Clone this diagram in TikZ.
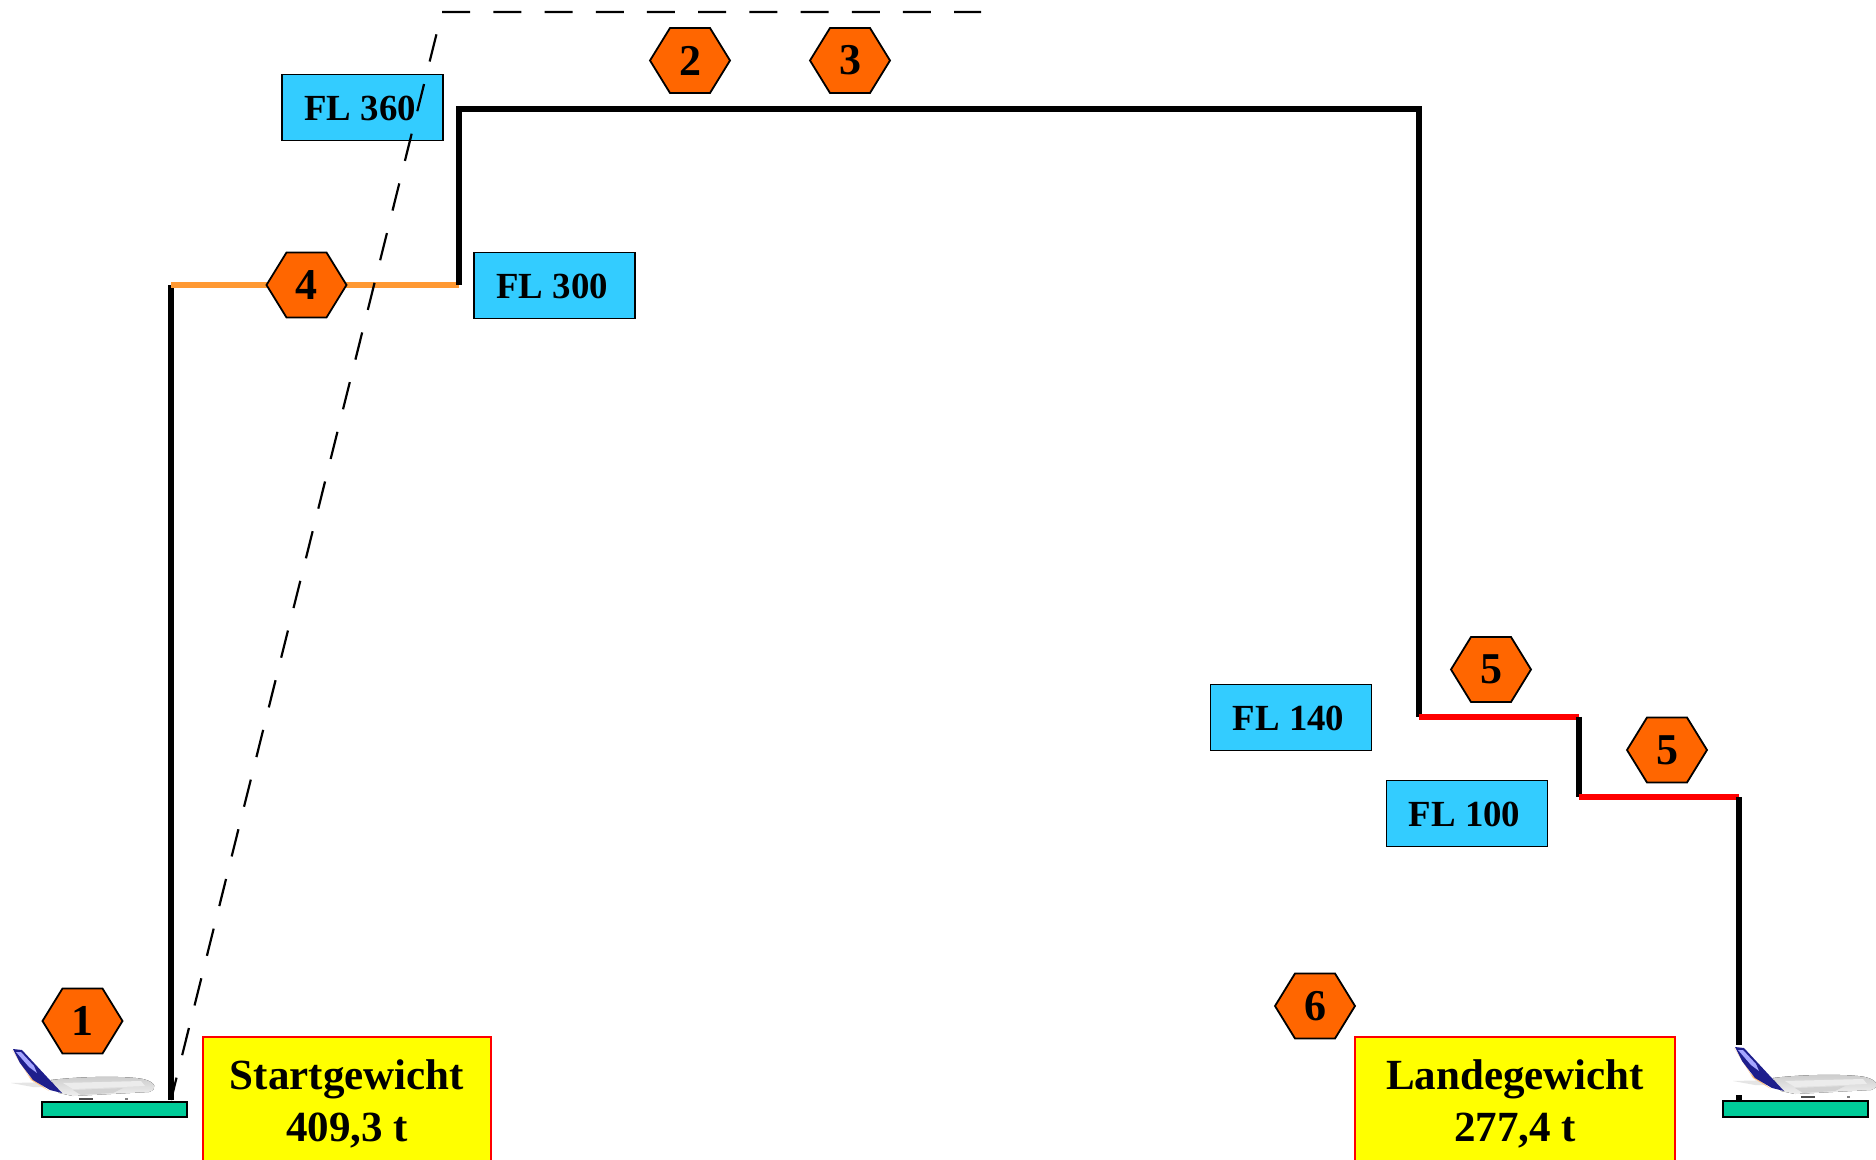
\documentclass[tikz,border=0pt]{standalone}
\usepackage{fontspec}
\setmainfont{Liberation Serif}
\usetikzlibrary{positioning}
\definecolor{hexorange}{RGB}{255,102,0}
\definecolor{flblue}{RGB}{51,204,255}
\definecolor{climborange}{RGB}{255,153,51}
\definecolor{rampgreen}{RGB}{0,204,153}
\definecolor{tailblue}{RGB}{30,30,140}
\definecolor{weightyellow}{RGB}{255,255,0}

\begin{document}
\begin{tikzpicture}[
    x=0.5pt, y=-0.5pt,
    route/.style={black, line width=3pt, line join=miter},
    descent/.style={red, line width=3pt},
    planned/.style={black, line width=1.1pt, dash pattern=on 14pt off 11.6pt, dash phase=2.5pt}, % Style for the dashed profile
    flbox/.style={draw=black, line width=0.8pt, fill=flblue, minimum width=80.5pt, minimum height=33pt, inner sep=0pt, text height=13.5pt, text depth=0pt, font=\fontsize{18.4}{22}\selectfont\bfseries},
    weightbox/.style={draw=red, line width=1pt, fill=weightyellow, minimum height=62pt, inner sep=0pt, align=center, font=\fontsize{21.5}{26.3}\selectfont\bfseries},
    ramp/.style={draw=black, line width=1pt, fill=rampgreen, inner sep=0pt},
    hexa/.style={draw=black, line width=0.9pt, fill=hexorange},
    hexnum/.style={font=\fontsize{22}{26}\selectfont\bfseries, inner sep=0pt},
    airliner/.pic={
        \fill[white] (-3,-2) rectangle (145,48);
        % Stabiliser and wing
        \fill[gray!20] (-2,34) -- (42,33) -- (50,38) -- (20,38) -- cycle;
        % Fuselage
        \fill[top color=gray!40, bottom color=gray!12] (38,31) .. controls (70,27) and (115,27) .. (130,30)
            .. controls (143,33) and (145,40) .. (136,43) -- (60,47) -- (46,44) -- cycle;
        \fill[white!85!gray] (50,34) -- (128,32) -- (132,37) -- (60,40) -- cycle;
        \fill[gray!35] (60,41) -- (110,39) -- (100,44) -- (68,46) -- cycle;
        % Tail fin
        \fill[orange!50!white] (-1,1) -- (18,31) -- (36,42) -- (16,27) -- cycle;
        \fill[tailblue] (0,0) -- (9,1) -- (34,28) -- (49,44) -- (37,41) -- (20,31) -- (7,14) -- cycle;
        \fill[blue!35!white] (3,3) -- (8,3) -- (21,17) -- (24,24) -- (16,18) -- cycle;
        % Landing gear
        \fill[black!70] (66,49) rectangle (80,51);
        \fill[black!50] (112,49) rectangle (115,51);
    }
]

\useasboundingbox (0,0) rectangle (1876,1160);

% Corners of the flight profile
\coordinate (takeoff) at (171,1100);
\coordinate (top300) at (171,285);
\coordinate (step300) at (459,285);
\coordinate (step360) at (459,109);
\coordinate (tod) at (1419,109);
\coordinate (fl140) at (1419,717);
\coordinate (step140) at (1579,717);
\coordinate (fl100) at (1579,797);
\coordinate (end100) at (1739,797);
\coordinate (landing) at (1739,1100);

% Ground ramps
\node[ramp, minimum width=72.5pt, minimum height=7.5pt] (rampleft) at (114.5,1109.5) {};
\node[ramp, minimum width=72.5pt, minimum height=8pt] (rampright) at (1795.5,1108.5) {};

% Profile
\draw[route] (takeoff) -- (top300);
\draw[climborange, line width=3pt] (top300) -- (step300);
\draw[route] (step300) -- (step360) -- (tod) -- (fl140);
\draw[descent] (fl140) -- (step140);
\draw[route] (step140) -- (fl100);
\draw[descent] (fl100) -- (end100);
\draw[route] (end100) -- (landing);

% Airplanes
\pic at (13,1049) {airliner};
\pic at (1735,1047) {airliner};

% Flight levels
\node[flbox] (fl360box) at (362.5,107.5) {FL 360\kern2.4pt};
\node[flbox] (fl300box) at (554.5,285.5) {FL 300\kern2.4pt};
\node[flbox] (fl140box) at (1291,717.5) {FL 140\kern2.4pt};
\node[flbox] (fl100box) at (1467,813.5) {FL 100\kern2.4pt};

% Dashed profile
\coordinate (dashtop) at (442,12);
\coordinate (dashend) at (981,12);
\draw[planned] (takeoff) -- (dashtop) -- (dashend);

% Numbered hexagons
\foreach \hexname/\hexpos/\hexlabel in {hexone/{82.5,1021}/1, hextwo/{690,60.5}/2, hexthree/{850,60.5}/3, hexfour/{306.5,285}/4, hexfivea/{1491,669.5}/5, hexfiveb/{1667,750}/5, hexsix/{1315,1006}/6} {
    \draw[hexa] (\hexpos) ++(-40,0) -- ++(20,-32.5) -- ++(40,0) -- ++(20,32.5) -- ++(-20,32.5) -- ++(-40,0) -- cycle;
    \node[hexnum] (\hexname) at (\hexpos) {\hexlabel};
}

% Weights
\node[weightbox, minimum width=144pt] (startbox) at (347,1099) {\rule{0pt}{19.8pt}Startgewicht\\409,3 t};
\node[weightbox, minimum width=160pt] (landbox) at (1515,1099) {\rule{0pt}{19.8pt}Landegewicht\\277,4 t};

\end{tikzpicture}
\end{document}
